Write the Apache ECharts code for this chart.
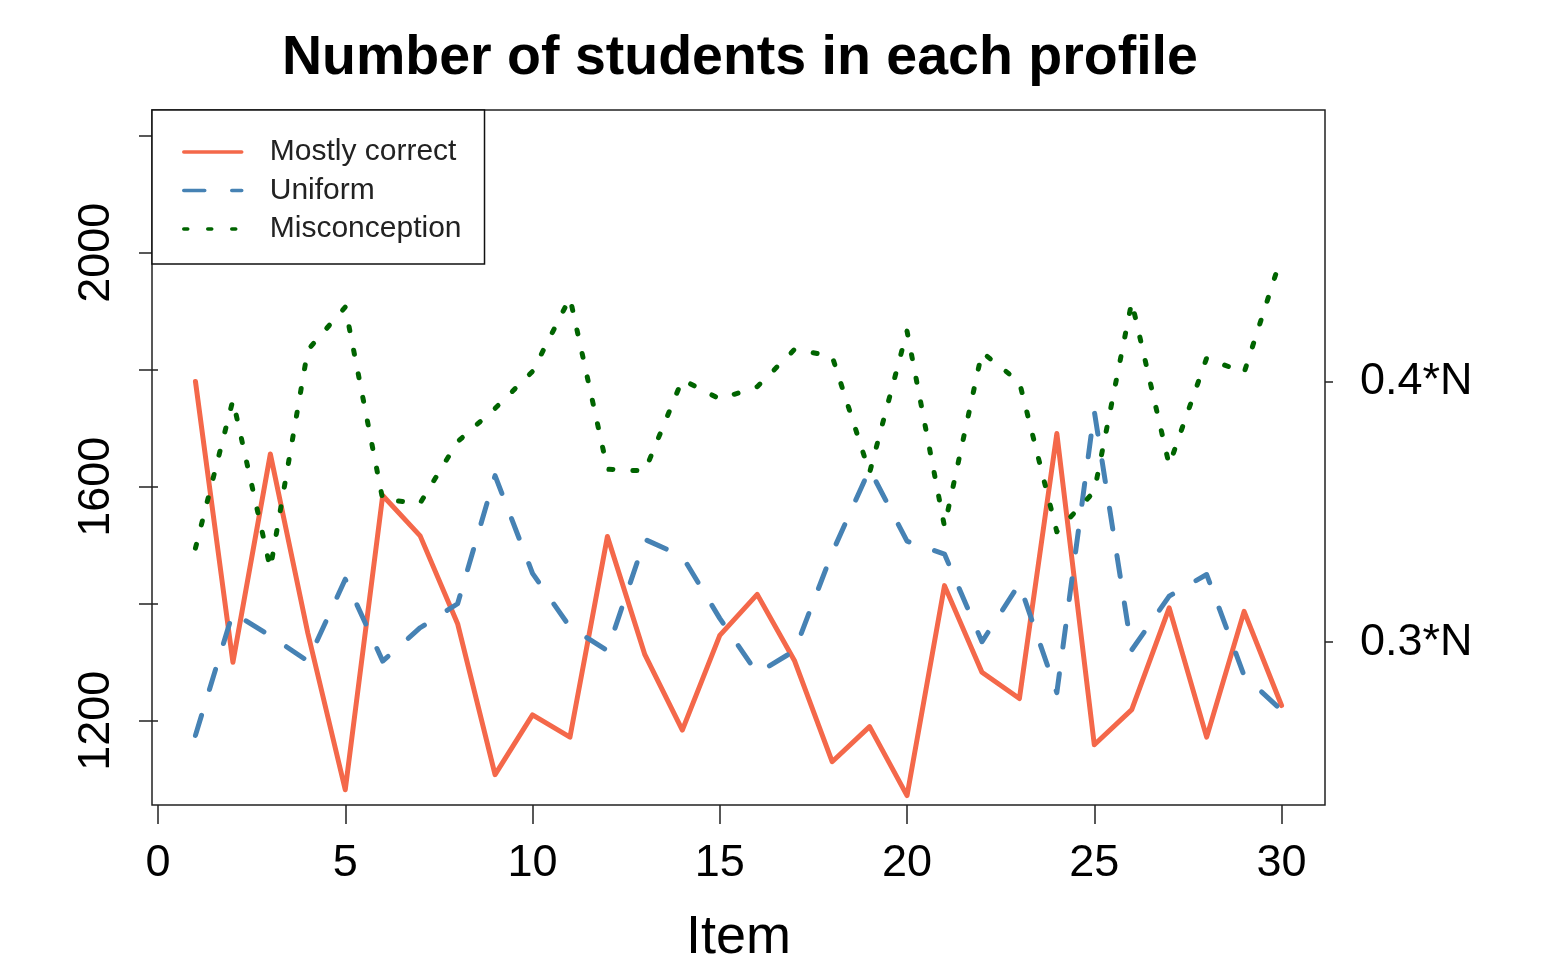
<!DOCTYPE html>
<html>
<head>
<meta charset="utf-8">
<title>Number of students in each profile</title>
<script src="https://cdn.jsdelivr.net/npm/echarts@6/dist/echarts.min.js"></script>
<style>
  html, body { margin: 0; padding: 0; background: #fff; }
  #chart { width: 1551px; height: 958px; }
</style>
</head>
<body>
<div id="chart"></div>
<script>
// item index on x
var items = [1, 2, 3, 4, 5, 6, 7, 8, 9, 10, 11, 12, 13, 14, 15, 16, 17, 18, 19, 20, 21, 22, 23, 24, 25, 26, 27, 28, 29, 30];

// number of students per profile
var mostlyCorrect = [1780, 1300, 1656, 1350, 1082, 1585, 1516, 1366, 1108, 1210, 1172, 1515, 1313, 1184, 1346, 1416, 1302, 1130, 1190, 1072, 1431, 1283, 1238, 1691, 1159, 1219, 1393, 1172, 1387, 1226];
var uniform = [1175, 1385, 1345, 1302, 1442, 1302, 1359, 1400, 1619, 1452, 1360, 1320, 1510, 1481, 1375, 1281, 1320, 1487, 1630, 1507, 1485, 1335, 1434, 1248, 1729, 1321, 1413, 1450, 1277, 1218];
var misconception = [1495, 1748, 1460, 1834, 1907, 1578, 1572, 1677, 1734, 1797, 1923, 1630, 1627, 1783, 1750, 1771, 1835, 1823, 1624, 1866, 1532, 1830, 1779, 1523, 1592, 1916, 1637, 1820, 1795, 1994];

// axis ticks
var xTicks = [0, 5, 10, 15, 20, 25, 30];
var yTicks = [1200, 1400, 1600, 1800, 2000, 2200];
var yLabels = [1200, 1600, 2000];
var N = 4448;
var rightFractions = [0.3, 0.4];

function pairs(ys) {
  return items.map(function (x, i) { return [x, ys[i]]; });
}

var FONT = "'Liberation Sans', Arial, sans-serif";

var chart = echarts.init(document.getElementById('chart'));

var option = {
  animation: false,
  backgroundColor: '#fff',
  title: {
    text: 'Number of students in each profile',
    left: 277,
    top: 26,
    textStyle: { fontFamily: FONT, fontSize: 55.5, fontWeight: 'bold', color: '#000' }
  },
  legend: {
    orient: 'vertical',
    left: 152,
    top: 110,
    padding: [27, 23, 20, 30],
    itemGap: 8.5,
    itemWidth: 58,
    itemHeight: 14,
    backgroundColor: '#fff',
    borderColor: '#111',
    borderWidth: 1.5,
    itemStyle: { opacity: 0 },
    lineStyle: { width: 3.5 },
    textStyle: { fontFamily: FONT, fontSize: 30, color: '#222', lineHeight: 30, padding: [0, 0, 0, 23] },
    data: ['Mostly correct', 'Uniform', 'Misconception']
  },
  grid: {
    left: 152,
    right: 226,
    top: 110,
    bottom: 153,
    outerBoundsMode: 'none',
    containLabel: false,
    show: true,
    borderColor: '#222',
    borderWidth: 1.5,
    backgroundColor: 'transparent'
  },
  xAxis: {
    type: 'value',
    min: -0.16,
    max: 31.16,
    name: 'Item',
    nameLocation: 'middle',
    nameGap: 106,
    nameTextStyle: { fontFamily: FONT, fontSize: 54, color: '#000' },
    splitLine: { show: false },
    axisLine: { show: false },
    axisTick: { show: true, length: 19, customValues: xTicks, lineStyle: { color: '#222', width: 1.5 } },
    axisLabel: { customValues: xTicks, margin: 36, fontFamily: FONT, fontSize: 45, color: '#000' }
  },
  yAxis: [
    {
      type: 'value',
      position: 'left',
      min: 1056,
      max: 2244,
      splitLine: { show: false },
      axisLine: { show: false },
      axisTick: { show: true, length: 19, customValues: yTicks, lineStyle: { color: '#222', width: 1.5 } },
      axisLabel: {
        customValues: yLabels, rotate: 90, margin: 33, fontFamily: FONT, fontSize: 45, color: '#000',
        formatter: function (v) { return String(v); }
      }
    },
    {
      type: 'value',
      position: 'right',
      min: 1056,
      max: 2244,
      splitLine: { show: false },
      axisLine: { show: false },
      axisTick: { show: true, length: 8, customValues: rightFractions.map(function (f) { return f * N; }), lineStyle: { color: '#222', width: 1.5 } },
      axisLabel: {
        customValues: rightFractions.map(function (f) { return f * N; }),
        margin: 35,
        fontFamily: FONT,
        fontSize: 45,
        color: '#000',
        formatter: function (v) { return (Math.round(v / N * 10) / 10) + '*N'; }
      }
    }
  ],
  series: [
    {
      name: 'Mostly correct',
      type: 'line',
      showSymbol: false,
      symbol: 'none',
      data: pairs(mostlyCorrect),
      lineStyle: { color: '#f4684a', width: 5, cap: 'round', join: 'round' },
      itemStyle: { color: '#f4684a' }
    },
    {
      name: 'Uniform',
      type: 'line',
      showSymbol: false,
      symbol: 'none',
      data: pairs(uniform),
      lineStyle: { color: '#4682b4', width: 5, type: [21, 27], cap: 'round', join: 'round' },
      itemStyle: { color: '#4682b4' }
    },
    {
      name: 'Misconception',
      type: 'line',
      showSymbol: false,
      symbol: 'none',
      data: pairs(misconception),
      lineStyle: { color: '#006400', width: 5, type: [4, 20], cap: 'round', join: 'round' },
      itemStyle: { color: '#006400' }
    }
  ]
};

chart.setOption(option);
</script>
</body>
</html>
